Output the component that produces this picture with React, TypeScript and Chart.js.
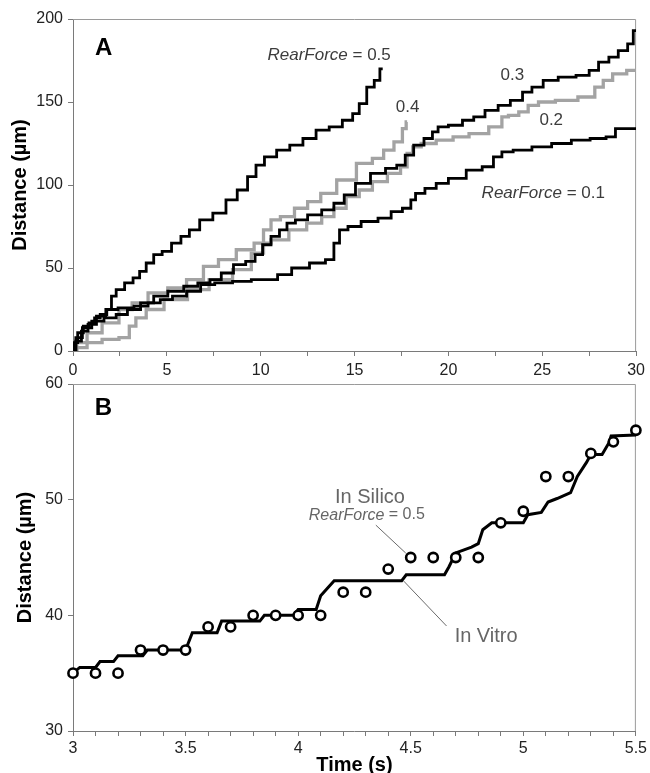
import React, { useEffect, useRef } from 'react';
import { Chart, registerables } from 'chart.js';

Chart.register(...registerables);

const FONT = '"Liberation Sans", Arial, Helvetica, sans-serif';

// ---------- Panel A data ----------
const rf05Time = [0, 0.1, 0.4, 0.7, 1.0, 1.3, 1.6, 2.0, 2.1, 2.5, 3.0, 3.4, 3.7, 4.1, 4.5, 5.0, 5.5, 6.0, 6.4, 7.1, 7.8, 8.5, 9.0, 9.6, 9.9, 10.5, 11.2, 11.9, 12.6, 13.3, 14.0, 14.7, 15.1, 15.4, 15.9, 16.2, 16.5];
const rf05Dist = [0, 5, 11, 15, 17, 20, 22, 25, 33, 37, 41, 44, 48, 53, 58, 60, 65, 69, 73, 79, 83, 91, 97, 105, 112, 117, 121, 124, 128, 133, 135, 139, 143, 149, 159, 163, 170];

const rf04Time = [0, 0.4, 1.1, 2.0, 2.9, 3.1, 3.6, 4.2, 5.5, 6.7, 7.8, 9.2, 9.8, 10.5, 10.6, 11.5, 12.1, 12.9, 13.5, 14.6, 15.6, 16.3, 16.8, 17.4, 17.7, 17.8];
const rf04Dist = [0, 2, 5, 7, 8, 15, 20, 25, 31, 37, 43, 49, 59, 73, 79, 81, 86, 90, 95, 103, 113, 116, 121, 126, 134, 138];

const rf03Time = [0, 0.3, 0.7, 1.3, 2.0, 2.6, 3.2, 4.0, 4.6, 5.5, 6.3, 7.0, 7.6, 8.2, 8.9, 9.5, 9.9, 10.3, 10.8, 11.2, 11.6, 12.1, 12.9, 13.6, 14.2, 14.7, 15.4, 16.3, 17.0, 17.5, 17.9, 18.4, 19.0, 19.3, 19.6, 20.4, 21.1, 21.6, 22.3, 23.0, 23.6, 24.3, 24.6, 25.5, 26.2, 27.4, 27.6, 28.4, 28.7, 29.4, 29.7, 30];
const rf03Dist = [0, 8, 14, 18, 20, 22, 25, 29, 33, 36, 39, 41, 43, 47, 52, 54, 58, 64, 69, 73, 77, 79, 82, 85, 89, 94, 101, 107, 110, 112, 118, 124, 128, 132, 135, 136, 139, 141, 145, 148, 151, 156, 159, 163, 165, 166, 169, 174, 177, 181, 185, 193];

const rf02Time = [0, 0.4, 1.1, 2.0, 2.9, 3.4, 4.6, 5.5, 6.6, 7.3, 8.2, 9.2, 10.1, 11.0, 12.0, 12.9, 13.6, 14.2, 14.9, 15.6, 16.3, 17.2, 17.7, 17.9, 18.3, 18.8, 19.9, 20.6, 21.6, 22.7, 23.0, 23.4, 24.1, 24.4, 25.2, 26.2, 27.6, 28.0, 28.5, 29.0, 30];
const rf02Dist = [0, 5, 11, 17, 25, 29, 35, 38, 43, 51, 55, 61, 65, 67, 73, 77, 81, 86, 93, 97, 102, 107, 111, 119, 123, 125, 127, 129, 131, 135, 141, 142, 144, 148, 150, 151, 153, 159, 163, 167, 169];

const rf01Time = [0, 0.3, 0.6, 1.0, 1.5, 2.0, 2.8, 3.7, 4.3, 5.0, 5.6, 6.5, 7.1, 8.0, 9.0, 10.0, 10.6, 11.2, 12.1, 13.1, 13.8, 14.0, 14.4, 14.9, 15.8, 16.7, 17.2, 17.9, 18.1, 18.4, 19.1, 19.6, 20.4, 21.5, 22.1, 22.7, 23.0, 23.9, 25.0, 26.0, 27.1, 28.0, 28.8, 29.0, 30];
const rf01Dist = [0, 6, 12, 16, 21, 25, 26, 27, 29, 31, 33, 36, 40, 41, 42, 43, 43, 46, 50, 53, 55, 65, 73, 75, 78, 80, 84, 86, 91, 95, 98, 101, 104, 109, 111, 117, 120, 121, 123, 125, 127, 128, 129, 134, 134];

const aXRange = [0, 30];
const aXStep = 2.5;
const aXLabelEvery = 5;
const aYRange = [0, 200];
const aYStep = 50;

// ---------- Panel B data ----------
const silicoTime = [3.0, 3.1, 3.2, 3.3, 3.4, 3.5, 3.6, 3.7, 3.8, 3.9, 4.0, 4.1, 4.2, 4.3, 4.4, 4.5, 4.6, 4.7, 4.8, 4.9, 5.0, 5.1, 5.2, 5.3, 5.4, 5.5];
const silicoDist = [35, 35, 35, 37, 37, 37, 39, 39, 40, 40, 40, 40, 42, 42, 44, 45, 45, 45, 45, 48, 49, 52, 52, 54, 55, 56];

const vitroTime = [3.00, 3.03, 3.10, 3.12, 3.18, 3.20, 3.31, 3.33, 3.50, 3.53, 3.64, 3.66, 3.83, 3.85, 3.98, 4.00, 4.08, 4.10, 4.16, 4.46, 4.48, 4.65, 4.67, 4.70, 4.77, 4.80, 4.82, 4.86, 5.00, 5.02, 5.08, 5.11, 5.15, 5.21, 5.24, 5.28, 5.30, 5.35, 5.38, 5.39, 5.50];
const vitroDist = [35.0, 35.5, 35.5, 36.0, 36.0, 36.5, 36.5, 37.0, 37.0, 38.5, 38.5, 39.5, 39.5, 40.0, 40.0, 40.5, 40.5, 41.7, 43.0, 43.0, 43.5, 43.5, 44.2, 45.4, 45.9, 46.2, 47.4, 48.0, 48.0, 48.7, 48.9, 49.8, 50.1, 50.6, 52.0, 53.2, 53.9, 53.9, 54.9, 55.5, 55.6];

const bXRange = [3, 5.5];
const bXStep = 0.1;
const bXLabelEvery = 0.5;
const bYRange = [30, 60];
const bYStep = 10;

// ---------- helpers ----------
const pts = (xs: number[], ys: number[]) => xs.map((x, i) => ({ x, y: ys[i] }));
const isMultiple = (v: number, m: number) => Math.abs(v / m - Math.round(v / m)) < 1e-6;
const fmt = (v: number) => (Math.abs(v - Math.round(v)) < 1e-6 ? String(Math.round(v)) : v.toFixed(1));

type Part = { text: string; italic?: boolean; bold?: boolean };
type Note = { x: number; y: number; parts: Part[]; size: number; color: string; align: 'left' | 'center' };
type Leader = { x1: number; y1: number; x2: number; y2: number };

const notesPlugin = (notes: Note[], leaders: Leader[]) => ({
  id: 'notes',
  beforeDatasetsDraw(chart: any) {
    const { ctx, chartArea: a } = chart;
    ctx.save();
    ctx.strokeStyle = '#9a9a9a';
    ctx.lineWidth = 1;
    ctx.beginPath();
    ctx.moveTo(a.left, a.top + 0.5);
    ctx.lineTo(a.right - 0.5, a.top + 0.5);
    ctx.lineTo(a.right - 0.5, a.bottom);
    ctx.stroke();
    ctx.restore();
  },
  afterDraw(chart: any) {
    const { ctx, scales } = chart;
    const sx = scales.x;
    const sy = scales.y;
    ctx.save();
    ctx.strokeStyle = '#6a6a6a';
    ctx.lineWidth = 1;
    leaders.forEach((l) => {
      ctx.beginPath();
      ctx.moveTo(sx.getPixelForValue(l.x1), sy.getPixelForValue(l.y1));
      ctx.lineTo(sx.getPixelForValue(l.x2), sy.getPixelForValue(l.y2));
      ctx.stroke();
    });
    ctx.textBaseline = 'middle';
    ctx.textAlign = 'left';
    notes.forEach((n) => {
      const fontOf = (p: Part) => `${p.italic ? 'italic ' : ''}${p.bold ? 'bold ' : ''}${n.size}px ${FONT}`;
      let total = 0;
      const widths = n.parts.map((p) => {
        ctx.font = fontOf(p);
        const w = ctx.measureText(p.text).width;
        total += w;
        return w;
      });
      let px = sx.getPixelForValue(n.x);
      if (n.align === 'center') px -= total / 2;
      const py = sy.getPixelForValue(n.y);
      ctx.fillStyle = n.color;
      n.parts.forEach((p, i) => {
        ctx.font = fontOf(p);
        ctx.fillText(p.text, px, py);
        px += widths[i];
      });
    });
    ctx.restore();
  },
});

const tickFont = { family: FONT, size: 16 };
const titleFont = { family: FONT, size: 20, weight: 'bold' as const };

const notesA: Note[] = [
  { x: 1.17, y: 182.5, parts: [{ text: 'A', bold: true }], size: 24, color: '#000', align: 'left' },
  { x: 10.36, y: 178.3, parts: [{ text: 'RearForce', italic: true }, { text: ' = 0.5' }], size: 17, color: '#3c3c3c', align: 'left' },
  { x: 22.78, y: 166.3, parts: [{ text: '0.3' }], size: 17, color: '#3c3c3c', align: 'left' },
  { x: 17.2, y: 147, parts: [{ text: '0.4' }], size: 17, color: '#3c3c3c', align: 'left' },
  { x: 24.85, y: 139, parts: [{ text: '0.2' }], size: 17, color: '#3c3c3c', align: 'left' },
  { x: 21.77, y: 95.2, parts: [{ text: 'RearForce', italic: true }, { text: ' = 0.1' }], size: 17, color: '#3c3c3c', align: 'left' },
];

const notesB: Note[] = [
  { x: 3.097, y: 57.9, parts: [{ text: 'B', bold: true }], size: 24, color: '#000', align: 'left' },
  { x: 4.319, y: 50.22, parts: [{ text: 'In Silico' }], size: 20, color: '#666', align: 'center' },
  { x: 4.305, y: 48.67, parts: [{ text: 'RearForce', italic: true }, { text: ' = 0.5' }], size: 16, color: '#666', align: 'center' },
  { x: 4.695, y: 38.21, parts: [{ text: 'In Vitro' }], size: 20, color: '#666', align: 'left' },
];
const leadersB: Leader[] = [
  { x1: 4.345, y1: 47.8, x2: 4.478, y2: 45.38 },
  { x1: 4.469, y1: 42.96, x2: 4.659, y2: 39.08 },
];

const lineDs = (label: string, xs: number[], ys: number[], color: string, width: number) => ({
  label,
  data: pts(xs, ys),
  showLine: true,
  stepped: 'middle' as const,
  borderColor: color,
  backgroundColor: color,
  borderWidth: width,
  pointRadius: 0,
  fill: false,
});

const GRAY = '#a3a3a3';
const AXIS = '#7a7a7a';

export default function App() {
  const refA = useRef<HTMLCanvasElement>(null);
  const refB = useRef<HTMLCanvasElement>(null);

  useEffect(() => {
    const chartA = new Chart(refA.current as HTMLCanvasElement, {
      type: 'scatter',
      data: {
        datasets: [
          lineDs('RearForce = 0.5', rf05Time, rf05Dist, '#000', 2.8),
          lineDs('RearForce = 0.3', rf03Time, rf03Dist, '#000', 2.8),
          lineDs('RearForce = 0.1', rf01Time, rf01Dist, '#000', 2.8),
          lineDs('RearForce = 0.4', rf04Time, rf04Dist, GRAY, 3.3),
          lineDs('RearForce = 0.2', rf02Time, rf02Dist, GRAY, 3.3),
        ] as any,
      },
      options: {
        animation: false,
        responsive: false,
        maintainAspectRatio: false,
        events: [],
        layout: { padding: { left: 0, right: 12, top: 19, bottom: 0 } },
        plugins: { legend: { display: false }, tooltip: { enabled: false } },
        scales: {
          x: {
            type: 'linear',
            min: aXRange[0],
            max: aXRange[1],
            ticks: {
              stepSize: aXStep,
              autoSkip: false,
              maxRotation: 0,
              font: tickFont,
              color: '#222',
              padding: 5,
              callback: (v: any) => (isMultiple(Number(v), aXLabelEvery) ? fmt(Number(v)) : ''),
            },
            grid: { drawOnChartArea: false, drawTicks: true, tickLength: 5, color: AXIS, lineWidth: 1 },
            border: { color: AXIS, width: 1 },
            afterFit: (s: any) => { s.height = 29; },
          },
          y: {
            type: 'linear',
            min: aYRange[0],
            max: aYRange[1],
            ticks: { stepSize: aYStep, font: tickFont, color: '#222', padding: 5 },
            grid: { drawOnChartArea: false, drawTicks: true, tickLength: 5, color: AXIS, lineWidth: 1 },
            border: { color: AXIS, width: 1 },
            title: { display: true, text: 'Distance (µm)', font: titleFont, color: '#000', padding: { top: 8, bottom: 0 } },
            afterFit: (s: any) => { s.width = 73; },
          },
        },
      } as any,
      plugins: [notesPlugin(notesA, [])],
    });

    const chartB = new Chart(refB.current as HTMLCanvasElement, {
      type: 'scatter',
      data: {
        datasets: [
          {
            label: 'In Silico, RearForce = 0.5',
            data: pts(silicoTime, silicoDist),
            showLine: false,
            pointRadius: 4.6,
            pointBorderWidth: 2.6,
            pointBackgroundColor: '#fff',
            pointBorderColor: '#000',
            clip: false,
          },
          {
            label: 'In Vitro',
            data: pts(vitroTime, vitroDist),
            showLine: true,
            borderColor: '#000',
            borderWidth: 3,
            pointRadius: 0,
            fill: false,
          },
        ] as any,
      },
      options: {
        animation: false,
        responsive: false,
        maintainAspectRatio: false,
        events: [],
        layout: { padding: { left: 0, right: 12, top: 24, bottom: 0 } },
        plugins: { legend: { display: false }, tooltip: { enabled: false } },
        scales: {
          x: {
            type: 'linear',
            min: bXRange[0],
            max: bXRange[1],
            ticks: {
              stepSize: bXStep,
              autoSkip: false,
              maxRotation: 0,
              font: tickFont,
              color: '#222',
              padding: 3,
              callback: (v: any) => (isMultiple(Number(v), bXLabelEvery) ? fmt(Number(v)) : ''),
            },
            grid: { drawOnChartArea: false, drawTicks: true, tickLength: 5, color: AXIS, lineWidth: 1 },
            border: { color: AXIS, width: 1 },
            title: { display: true, text: 'Time (s)', font: titleFont, color: '#000', padding: { top: 0, bottom: 3 } },
            afterFit: (s: any) => { s.height = 49; },
          },
          y: {
            type: 'linear',
            min: bYRange[0],
            max: bYRange[1],
            ticks: { stepSize: bYStep, font: tickFont, color: '#222', padding: 5 },
            grid: { drawOnChartArea: false, drawTicks: true, tickLength: 5, color: AXIS, lineWidth: 1 },
            border: { color: AXIS, width: 1 },
            title: { display: true, text: 'Distance (µm)', font: titleFont, color: '#000', padding: { top: 13, bottom: 0 } },
            afterFit: (s: any) => { s.width = 73; },
          },
        },
      } as any,
      plugins: [notesPlugin(notesB, leadersB)],
    });

    return () => {
      chartA.destroy();
      chartB.destroy();
    };
  }, []);

  return (
    <div style={{ position: 'absolute', left: 0, top: 0, width: 650, height: 773, overflow: 'hidden', background: '#fff' }}>
      <canvas ref={refA} width={650} height={380} style={{ position: 'absolute', left: 0, top: 0 }} />
      <canvas ref={refB} width={650} height={420} style={{ position: 'absolute', left: 0, top: 360 }} />
    </div>
  );
}
